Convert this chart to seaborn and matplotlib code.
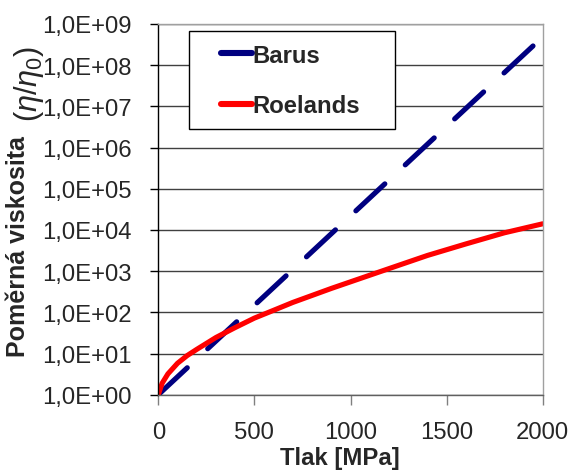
import matplotlib
matplotlib.use("Agg")
import matplotlib.pyplot as plt
from matplotlib.ticker import FuncFormatter, FixedLocator
from matplotlib.lines import Line2D
from matplotlib.patches import Rectangle
from matplotlib import font_manager
import seaborn as sns
import pandas as pd

# Data
barus_p = [0, 500, 1000, 1500, 2000]
barus_ratio = [1.0, 1.48e2, 2.2e4, 3.27e6, 4.85e8]

roelands_p = [0, 20, 50, 100, 150, 200, 300, 400, 500, 600, 700, 800, 900, 1000,
              1200, 1400, 1600, 1800, 2000]
roelands_ratio = [1.0, 1.9, 3.2, 5.8, 8.9, 12.6, 24.5, 42.7, 72.4, 112, 174, 257, 380, 550,
                  1150, 2400, 4570, 8510, 14100]

series_names = ["Barus", "Roelands"]
x_ticks = [0, 500, 1000, 1500, 2000]
y_ticks = [1e0, 1e1, 1e2, 1e3, 1e4, 1e5, 1e6, 1e7, 1e8, 1e9]
x_label = "Tlak [MPa]"
y_label_text = "Poměrná viskosita"
y_label_math = r"$(\eta/\eta_0)$"

df = pd.concat([
    pd.DataFrame({"p": barus_p, "ratio": barus_ratio, "model": series_names[0]}),
    pd.DataFrame({"p": roelands_p, "ratio": roelands_ratio, "model": series_names[1]}),
], ignore_index=True)

names = {f.name for f in font_manager.fontManager.ttflist}
main_font = "Liberation Sans Narrow" if "Liberation Sans Narrow" in names else "Liberation Sans"
k = 1.0 if main_font == "Liberation Sans Narrow" else 0.82
fs = 21 * k

sns.set_style("white")
plt.rcParams["font.family"] = [main_font, "DejaVu Sans"]
plt.rcParams["mathtext.fontset"] = "custom"
plt.rcParams["mathtext.rm"] = main_font
plt.rcParams["mathtext.it"] = main_font + ":italic"
plt.rcParams["mathtext.bf"] = main_font + ":bold"

W, H = 568, 477
fig = plt.figure(figsize=(W / 100, H / 100), dpi=100)
ax = fig.add_axes([158.3 / W, 1 - 395.7 / H, (542.7 - 158.3) / W, (395.7 - 25) / H])

palette = {"Barus": "#000080", "Roelands": "#ff0000"}
dashes = {"Barus": (7.7, 5.43), "Roelands": ""}
sns.lineplot(data=df, x="p", y="ratio", hue="model", style="model",
             palette=palette, dashes=dashes, linewidth=3.7, ax=ax,
             dash_capstyle="round", solid_capstyle="round", legend=False,
             sort=False, estimator=None)

ax.set_yscale("log")
ax.set_ylim(1, 1e9)
ax.set_xlim(0, 2000)
ax.yaxis.set_major_locator(FixedLocator(y_ticks))
ax.yaxis.set_minor_locator(FixedLocator([]))
ax.yaxis.set_major_formatter(FuncFormatter(lambda v, pos: f"{v:.1E}".replace(".", ",")))
ax.xaxis.set_major_locator(FixedLocator(x_ticks))

ax.grid(True, axis="y", color="#404040", linewidth=1.0)
ax.grid(False, axis="x")
ax.set_axisbelow(True)

for s in ["top", "right"]:
    ax.spines[s].set_color("#a0a0a0")
    ax.spines[s].set_linewidth(1.0)
ax.spines["left"].set_color("black")
ax.spines["left"].set_linewidth(1.0)
ax.spines["bottom"].set_color("#606060")
ax.spines["bottom"].set_linewidth(1.0)

ax.tick_params(axis="y", which="major", direction="out", length=6, width=1.0,
               color="black", labelsize=fs, pad=13, left=True)
ax.tick_params(axis="x", which="major", direction="out", length=7, width=1.0,
               color="#808080", labelsize=fs, pad=12, bottom=True)

ax.set_xlabel(x_label, fontsize=fs, fontweight="bold")
ax.xaxis.set_label_coords((340 - 158.3) / 384.4, -(447 - 395.7) / 370.7)

ax.set_ylabel(y_label_text, fontsize=22 * k, fontweight="bold")
ax.yaxis.set_label_coords(-(158.3 - 30) / 384.4, (395.7 - 247) / 370.7)
fig.text(29 / W, 1 - 84 / H, y_label_math, rotation=90, fontsize=27 * k,
         ha="center", va="center")

# legend frame and entries
fig.patches.append(Rectangle((189 / W, 1 - 130 / H), (395 - 189) / W, (130 - 32.3) / H,
                             transform=fig.transFigure, facecolor="white",
                             edgecolor="black", linewidth=1.0, zorder=5))
handles = [Line2D([], [], color=palette[n], linewidth=4.4, solid_capstyle="round") for n in series_names]
leg = fig.legend(handles, series_names, loc="center left",
                 bbox_to_anchor=(221 / W, 1 - 81.5 / H),
                 frameon=False,
                 handlelength=1.3, handletextpad=0.03, labelspacing=1.15,
                 borderpad=0.0, borderaxespad=0.0,
                 prop={"size": fs, "weight": "bold"})
leg.set_zorder(6)

fig.savefig("out.png", dpi=100)
